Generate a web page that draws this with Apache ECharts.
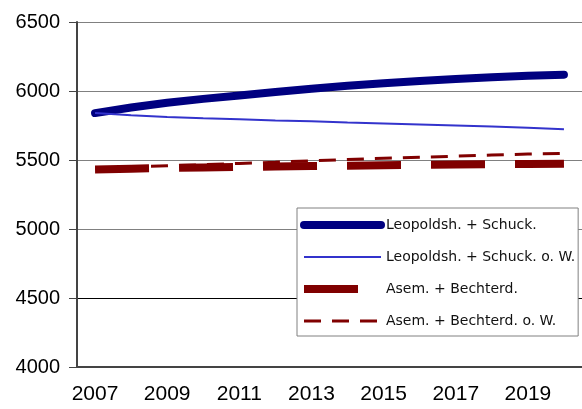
<!DOCTYPE html>
<html>
<head>
<meta charset="utf-8">
<script src="https://cdn.jsdelivr.net/npm/echarts@6/dist/echarts.min.js"></script>
<style>
  html, body { margin: 0; padding: 0; background: #fff; }
  #main { width: 582px; height: 409px; }
</style>
</head>
<body>
<div id="main"></div>
<script>
// Jahre
var years = ['2007', '2008', '2009', '2010', '2011', '2012', '2013',
             '2014', '2015', '2016', '2017', '2018', '2019', '2020'];

// Werte
var leoSchuck = [5840, 5880, 5915, 5943, 5968, 5993, 6017, 6038, 6056, 6072, 6087, 6100, 6110, 6118];
var leoSchuckOW = [5840, 5825, 5812, 5803, 5795, 5787, 5780, 5772, 5765, 5758, 5750, 5742, 5734, 5723];
var asemBecht = [5432, 5437, 5442, 5446, 5450, 5453, 5456, 5459, 5462, 5465, 5467, 5469, 5471, 5473];
var asemBechtOW = [5440, 5450, 5458, 5466, 5475, 5484, 5494, 5504, 5512, 5520, 5528, 5536, 5543, 5548];

var names = ['Leopoldsh. + Schuck.', 'Leopoldsh. + Schuck. o. W.',
             'Asem. + Bechterd.', 'Asem. + Bechterd. o. W.'];

var chart = echarts.init(document.getElementById('main'));

chart.setOption({
    animation: false,
    textStyle: { fontFamily: 'Liberation Sans, Arial, sans-serif' },
    grid: { left: 77, top: 22, width: 508, height: 345 },
    legend: {
        orient: 'vertical',
        left: 297,
        top: 208,
        padding: [10, 3, 8, 3],
        itemWidth: 77,
        itemHeight: 14,
        itemGap: 18,
        backgroundColor: '#fff',
        borderColor: '#808080',
        borderWidth: 1,
        itemStyle: { opacity: 0 },
        lineStyle: { width: 'inherit', type: 'inherit', cap: 'inherit' },
        textStyle: { fontFamily: 'DejaVu Sans, sans-serif', fontSize: 14, color: '#111' },
        data: names
    },
    xAxis: {
        type: 'category',
        data: years,
        boundaryGap: true,
        axisLine: { lineStyle: { color: '#444', width: 2 } },
        axisTick: { interval: 0, length: 6, lineStyle: { color: '#444', width: 1 } },
        axisLabel: { interval: 1, fontSize: 21, color: '#000', margin: 17 }
    },
    yAxis: {
        type: 'value',
        min: 4000,
        max: 6500,
        interval: 500,
        axisLine: { show: true, lineStyle: { color: '#444', width: 2 } },
        axisTick: { show: true, length: 8, lineStyle: { color: '#444' } },
        axisLabel: { fontSize: 20, color: '#000', margin: 17, formatter: function (v) { return String(v); } },
        splitLine: {
            lineStyle: {
                color: ['#808080', '#000', '#808080', '#808080', '#808080', '#808080'],
                width: 1
            }
        }
    },
    series: [
        {
            name: names[0], type: 'line', data: leoSchuck, symbol: 'none',
            lineStyle: { color: '#000080', width: 8, cap: 'round', join: 'round' },
            itemStyle: { color: '#000080' }
        },
        {
            name: names[1], type: 'line', data: leoSchuckOW, symbol: 'none',
            lineStyle: { color: '#3333cc', width: 2 },
            itemStyle: { color: '#3333cc' }
        },
        {
            name: names[2], type: 'line', data: asemBecht, symbol: 'none',
            lineStyle: { color: '#800000', width: 8, type: [54, 30], cap: 'butt' },
            itemStyle: { color: '#800000' }
        },
        {
            name: names[3], type: 'line', data: asemBechtOW, symbol: 'none',
            lineStyle: { color: '#800000', width: 3, type: [17, 11] },
            itemStyle: { color: '#800000' }
        }
    ]
});
</script>
</body>
</html>
